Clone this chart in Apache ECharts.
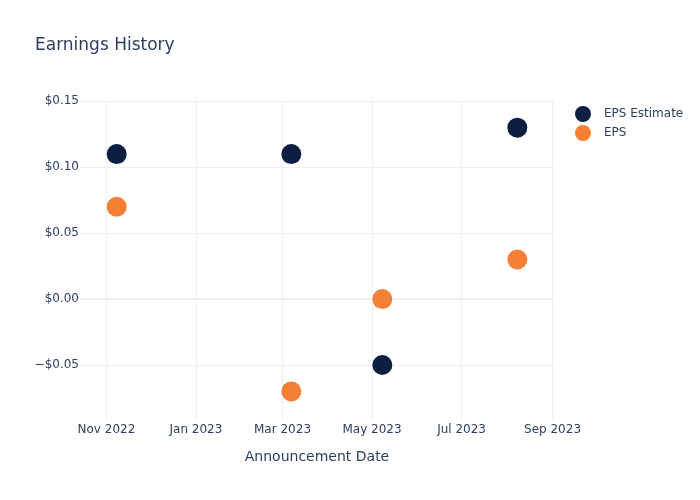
<!DOCTYPE html>
<html>
<head>
<meta charset="utf-8">
<script src="https://cdn.jsdelivr.net/npm/echarts@6/dist/echarts.min.js"></script>
<style>html,body{margin:0;padding:0;background:#fff}#c{width:700px;height:500px}</style>
</head>
<body>
<div id="c"></div>
<script>
var dates = ['2022-11-08', '2023-03-07', '2023-05-08', '2023-08-08'];
var epsEstimate = [0.11, 0.11, -0.05, 0.13];
var eps = [0.07, -0.07, 0.00, 0.03];
var xTickDates = ['2022-11-01', '2023-01-01', '2023-03-01', '2023-05-01', '2023-07-01', '2023-09-01'];
var xTickLabels = ['Nov 2022', 'Jan 2023', 'Mar 2023', 'May 2023', 'Jul 2023', 'Sep 2023'];
var yTicks = [-0.05, 0, 0.05, 0.10, 0.15];
var xMin = '2022-10-14', xMax = '2023-09-02';
var yMin = -0.0917, yMax = 0.151;

var P = function (d) { return +echarts.time.parse(d); };
var xTickVals = xTickDates.map(P);
var labelMap = {};
xTickVals.forEach(function (v, i) { labelMap[v] = xTickLabels[i]; });

var font = 'DejaVu Sans';
var txt = '#2a3f5f';
var grid = '#ebf0f8';

var chart = echarts.init(document.getElementById('c'), null, {renderer: 'canvas'});
chart.setOption({
  animation: false,
  backgroundColor: '#fff',
  textStyle: {fontFamily: font},
  title: {
    text: 'Earnings History', left: 30, top: 32,
    textStyle: {fontFamily: font, fontSize: 17, fontWeight: 'normal', color: txt}
  },
  legend: {
    orient: 'vertical', left: 570, top: 101, itemGap: 3,
    itemWidth: 16, itemHeight: 16, icon: 'circle',
    textStyle: {fontFamily: font, fontSize: 12, color: txt, padding: [0, 0, 0, 8]},
    data: ['EPS Estimate', 'EPS']
  },
  grid: {left: 80, right: 146, top: 100, bottom: 80, containLabel: false},
  xAxis: {
    type: 'value', min: P(xMin), max: P(xMax), scale: true,
    name: 'Announcement Date', nameLocation: 'middle', nameGap: 30,
    nameTextStyle: {fontFamily: font, fontSize: 14, color: txt},
    axisLine: {show: false},
    axisTick: {show: false, customValues: xTickVals},
    axisLabel: {
      customValues: xTickVals, margin: 4, fontFamily: font, fontSize: 12, color: txt,
      hideOverlap: false,
      formatter: function (v) { return labelMap[v] || ''; }
    },
    splitLine: {show: true, lineStyle: {color: grid, width: 1}}
  },
  yAxis: {
    type: 'value', min: yMin, max: yMax,
    axisLine: {show: false},
    axisTick: {show: false, customValues: yTicks},
    axisLabel: {
      customValues: yTicks, margin: 1, fontFamily: font, fontSize: 12, color: txt,
      padding: [3, 0, 0, 0],
      formatter: function (v) {
        var s = '$' + Math.abs(v).toFixed(2);
        return v < -1e-9 ? '\u2212' + s : s;
      }
    },
    splitLine: {show: true, lineStyle: {color: grid, width: 1}}
  },
  series: [
    {
      name: 'EPS Estimate', type: 'scatter', symbolSize: 20,
      itemStyle: {color: '#0c1f40', opacity: 1},
      data: dates.map(function (d, i) { return [P(d), epsEstimate[i]]; }),
      markLine: {
        silent: true, symbol: 'none', label: {show: false},
        lineStyle: {color: grid, width: 2, type: 'solid'},
        data: [{yAxis: 0}], z: 1
      },
      z: 3
    },
    {
      name: 'EPS', type: 'scatter', symbolSize: 20,
      itemStyle: {color: '#f58035', opacity: 1},
      data: dates.map(function (d, i) { return [P(d), eps[i]]; }),
      z: 3
    }
  ]
});
</script>
</body>
</html>
